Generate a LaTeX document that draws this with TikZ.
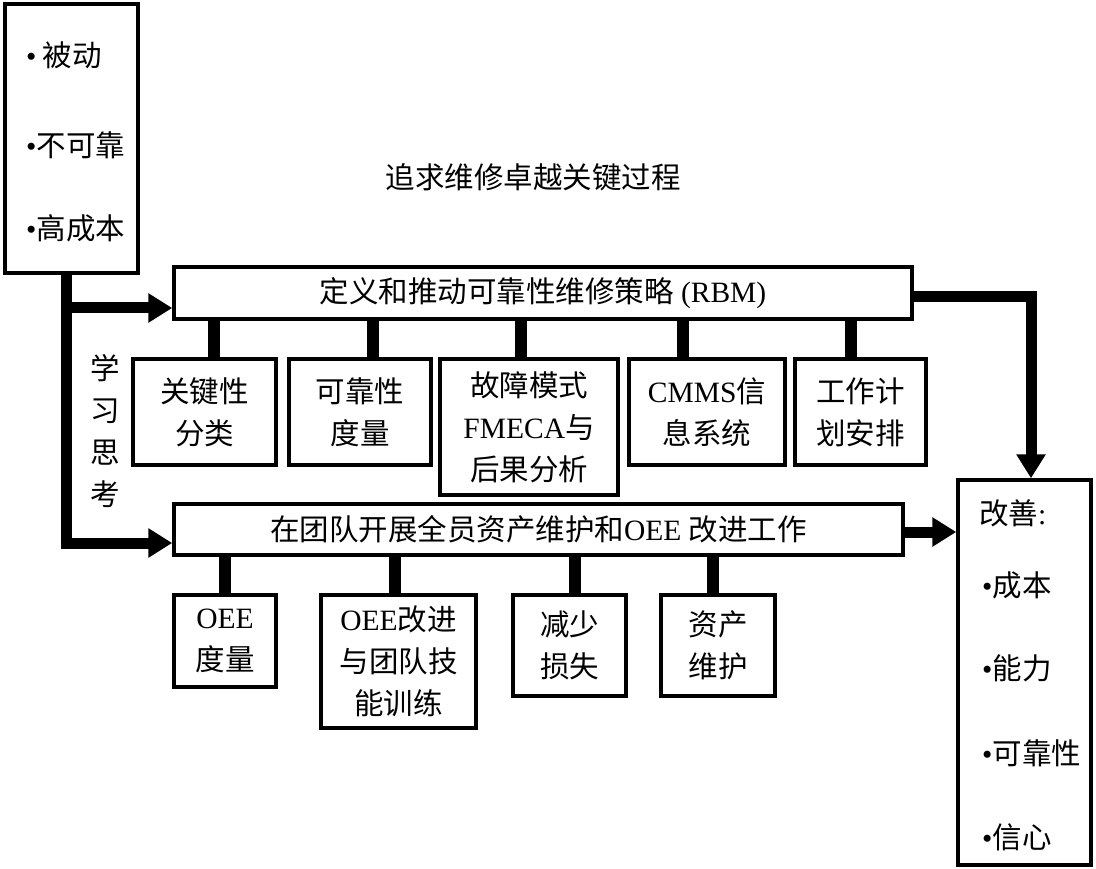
\documentclass[tikz,border=0pt]{standalone}
\usepackage{fontspec}
\setmainfont{Liberation Serif}
\newfontfamily\cjk{Noto Sans CJK SC}
\newcommand{\lat}[1]{{\rmfamily #1}}
\usetikzlibrary{arrows.meta, positioning, calc}

\begin{document}
\begin{tikzpicture}[
  x=1pt, y=-1pt,
  font=\cjk\fontsize{29.5}{42}\selectfont,
  box/.style={
    draw, line width=3.5pt, fill=white, inner sep=0pt, align=center
  },
  txt/.style={inner sep=0pt, anchor=west},
  bar/.style={line width=12pt},
  flow/.style={line width=11pt, -{Triangle[length=24pt, width=28pt]}}
]
  \useasboundingbox (0,0) rectangle (1096,869);

  % left: where we start
  \node[box, minimum width=133pt, minimum height=269pt] (prob) at (71.5,138.5) {};
  \node[txt] (p1) at (26,55) {\lat{•}\hspace{6pt}被动};
  \node[txt] (p2) at (26,145) {\lat{•}不可靠};
  \node[txt] (p3) at (26,228) {\lat{•}高成本};

  \node (title) at (533,177) {追求维修卓越关键过程};

  % main strands
  \node[box, minimum width=738pt, minimum height=52pt] (rbm) at (543,293)
    {定义和推动可靠性维修策略\lat{ (RBM)}};
  \node[box, minimum width=729pt, minimum height=51pt] (oee) at (538.5,529.5)
    {在团队开展全员资产维护和\lat{OEE }改进工作};

  % first row
  \node[box, minimum width=143pt, minimum height=106pt] (k1) at (204.5,412) {关键性\\分类};
  \node[box, minimum width=142pt, minimum height=106pt] (k2) at (360,412) {可靠性\\度量};
  \node[box, minimum width=178pt, minimum height=136pt] (k3) at (529,427)
    {故障模式\\\lat{FMECA}与\\后果分析};
  \node[box, minimum width=156pt, minimum height=106pt] (k4) at (707,412) {\lat{CMMS}信\\息系统};
  \node[box, minimum width=131pt, minimum height=106pt] (k5) at (860.5,412) {工作计\\划安排};

  % second row
  \node[box, minimum width=102pt, minimum height=92pt] (m1) at (225,641) {\lat{OEE}\\度量};
  \node[box, minimum width=155pt, minimum height=133pt] (m2) at (398.5,661.5)
    {\lat{OEE}改进\\与团队技\\能训练};
  \node[box, minimum width=113pt, minimum height=101pt] (m3) at (569.5,645.5) {减少\\损失};
  \node[box, minimum width=114pt, minimum height=101pt] (m4) at (718,645.5) {资产\\维护};

  \foreach \n/\x in {k1/214, k2/373, k3/521, k4/683, k5/851}
    \draw[bar] (rbm.south -| \x,0) -- (\n.north -| \x,0);
  \foreach \n/\x in {m1/225, m2/395, m3/575, m4/713}
    \draw[bar] (oee.south -| \x,0) -- (\n.north -| \x,0);

  % right: where we end up
  \node[box, minimum width=133pt, minimum height=385pt] (gain) at (1024.5,672.5) {};
  \node[txt] (g0) at (979,513) {改善\lat{:}};
  \node[txt] (g1) at (982,585) {\lat{•}成本};
  \node[txt] (g2) at (982,668) {\lat{•}能力};
  \node[txt] (g3) at (982,753) {\lat{•}可靠性};
  \node[txt] (g4) at (982,837) {\lat{•}信心};

  % flows
  \node[align=center] (learn) at (105,431) {学\\习\\思\\考};
  \coordinate (s1) at (66,308);
  \coordinate (s2) at (66,543);
  \draw[flow] (prob.south -| s1) -- (s2) -- (s2 -| oee.west);
  \draw[flow] (s1) -- (s1 -| rbm.west);

  \coordinate (turn) at (1031,297);
  \draw[flow] (rbm.east |- turn) -- (turn) -- (turn |- gain.north);
  \draw[flow] (oee.east |- 0,532) -- (gain.west |- 0,532);
\end{tikzpicture}
\end{document}
